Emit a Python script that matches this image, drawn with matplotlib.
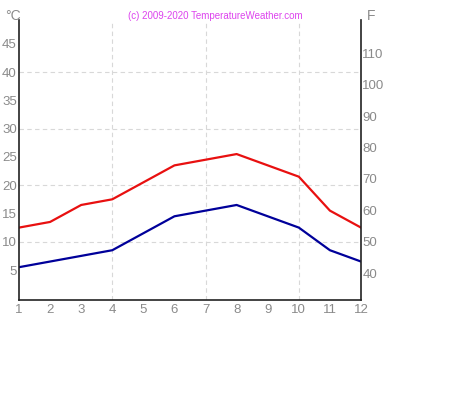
import numpy as np
import matplotlib.pyplot as plt

# monthly climate data (deg C)
months = [1, 2, 3, 4, 5, 6, 7, 8, 9, 10, 11, 12]
t_max = [12.5, 13.5, 16.5, 17.5, 20.5, 23.5, 24.5, 25.5, 23.5, 21.5, 15.5, 12.5]
t_min = [5.5, 6.5, 7.5, 8.5, 11.5, 14.5, 15.5, 16.5, 14.5, 12.5, 8.5, 6.5]
c_ticks = [5, 10, 15, 20, 25, 30, 35, 40, 45]
f_ticks = [40, 50, 60, 70, 80, 90, 100, 110]

plt.rcParams['font.family'] = ['Liberation Sans', 'DejaVu Sans']
grey = '#8a8a8a'

fig = plt.figure(figsize=(4.74, 3.99), dpi=100)
ax = fig.add_axes([19/474, 99/399, 342/474, 280/399])

#dashed grid
for x in [4, 7, 10]:
    ax.axvline(x, color='#d8d8d8', lw=0.8, ls=(0, (4, 3)), zorder=0)
for y in [10, 20, 30, 40]:
    ax.axhline(y, color='#d8d8d8', lw=0.8, ls=(0, (4, 3)), zorder=0)

ax.plot(months, t_max, color='#e81010', lw=1.6)
ax.plot(months, t_min, color='#00009a', lw=1.6)

ax.set_xlim(1, 12)
ax.set_ylim(-0.3, 49.2)
ax.set_xticks(months)
ax.set_yticks(c_ticks)
ax.tick_params(length=0, labelsize=9.5, colors=grey, pad=1.5)
ax.tick_params(axis='x', pad=3)
ax.spines['top'].set_visible(False)
for s in ['left', 'right', 'bottom']:
    ax.spines[s].set_color('#222222')
    ax.spines[s].set_linewidth(1.2)

#fahrenheit axis on the right
ax2 = ax.twinx()
ax2.set_ylim(ax.get_ylim())
ax2.set_yticks([(f - 32) * 5 / 9 for f in f_ticks])
ax2.set_yticklabels([str(f) for f in f_ticks])
ax2.tick_params(length=0, labelsize=9.5, colors=grey, pad=1)
for s in ['left', 'right', 'bottom', 'top']:
    ax2.spines[s].set_visible(False)

fig.text(5/474, 1 - 16/399, '°C', color=grey, fontsize=10, ha='left', va='center')
fig.text(367/474, 1 - 16/399, 'F', color=grey, fontsize=10, ha='left', va='center')
fig.text(215/474, 1 - 16/399, '(c) 2009-2020 TemperatureWeather.com', color='#dd44ee',
         fontsize=7, ha='center', va='center')

plt.savefig('out.png', dpi=100)
